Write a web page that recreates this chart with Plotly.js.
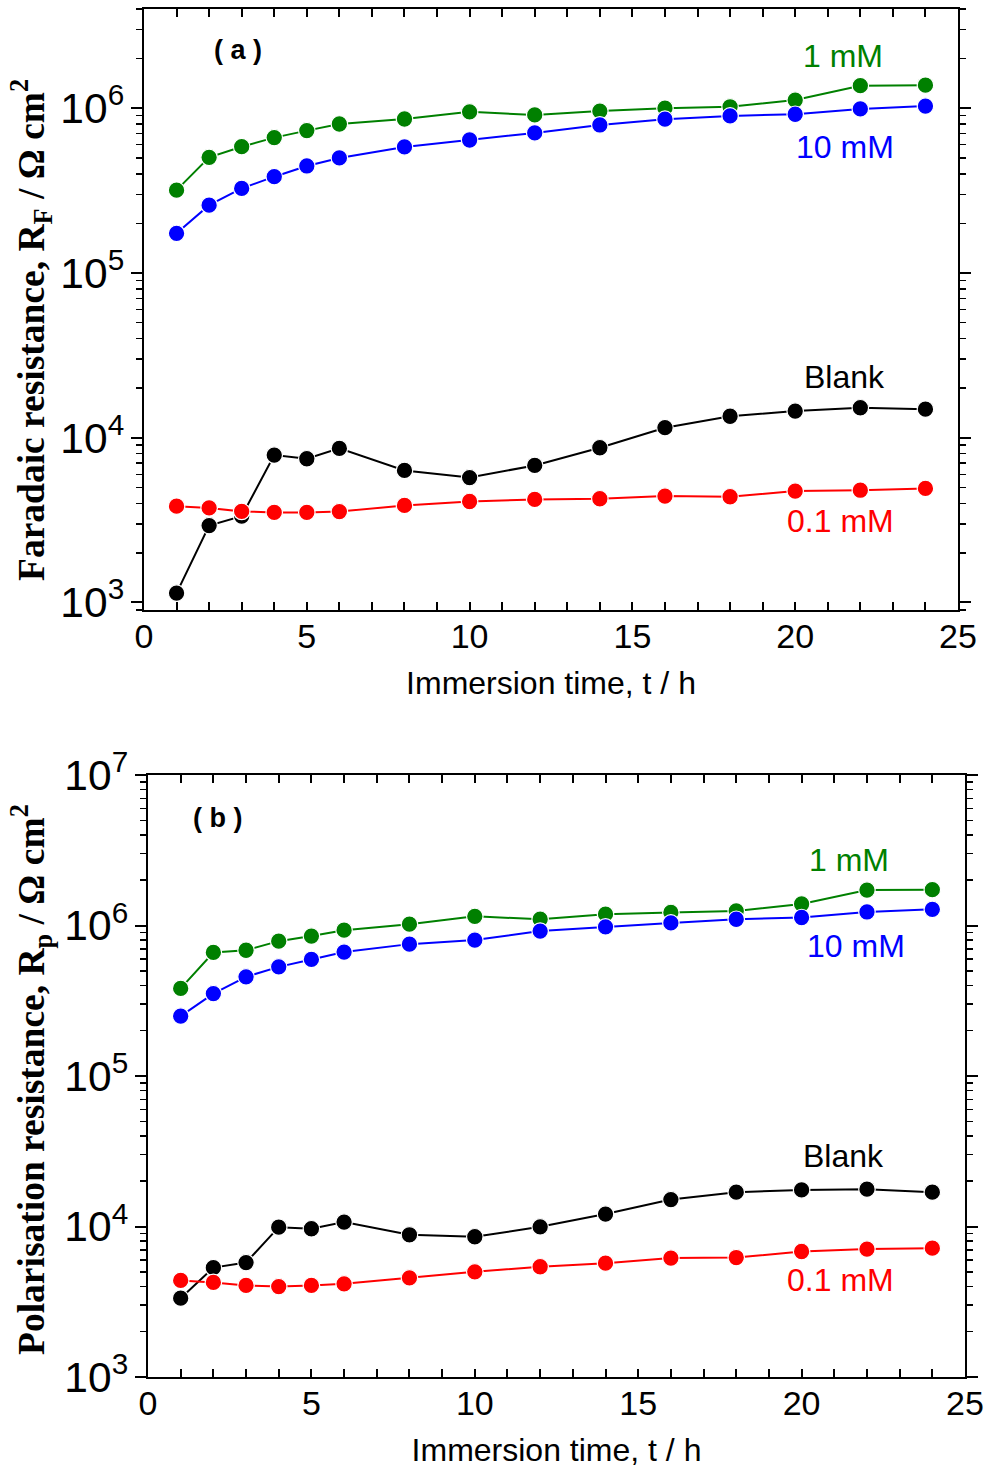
<!DOCTYPE html>
<html>
<head>
<meta charset="utf-8">
<script src="https://cdn.plot.ly/plotly-3.0.1.min.js"></script>
<style>html,body{margin:0;padding:0;background:#fff;}#chart{width:984px;height:1470px;}</style>
</head>
<body>
<div id="chart"></div>
<script>
// Immersion time (h)
const times = [1, 2, 3, 4, 5, 6, 8, 10, 12, 14, 16, 18, 20, 22, 24];

// (a) Faradaic resistance R_F (Ohm cm^2)
const rfBlank = [1140, 2930, 3340, 7840, 7450, 8610, 6330, 5730, 6790, 8690, 11500, 13500, 14500, 15200, 14900];
const rf01mM  = [3840, 3750, 3570, 3520, 3520, 3560, 3880, 4100, 4220, 4260, 4420, 4380, 4740, 4800, 4920];
const rf1mM   = [318000, 503000, 584000, 663000, 731000, 802000, 860000, 950000, 910000, 960000, 1000000, 1020000, 1120000, 1370000, 1380000];
const rf10mM  = [174000, 258000, 326000, 384000, 446000, 499000, 582000, 641000, 708000, 791000, 858000, 898000, 919000, 990000, 1030000];

// (b) Polarisation resistance R_p (Ohm cm^2)
const rpBlank = [3340, 5330, 5760, 9900, 9660, 10700, 8810, 8550, 9950, 12100, 15100, 16900, 17500, 17700, 16900];
const rp01mM  = [4380, 4250, 4060, 3990, 4060, 4160, 4560, 5000, 5400, 5710, 6170, 6220, 6820, 7080, 7180];
const rp1mM   = [382000, 662000, 685000, 787000, 851000, 931000, 1020000, 1150000, 1100000, 1190000, 1220000, 1250000, 1390000, 1720000, 1730000];
const rp10mM  = [250000, 353000, 456000, 531000, 595000, 666000, 752000, 800000, 918000, 980000, 1040000, 1100000, 1130000, 1230000, 1280000];

const seriesNames = ['Blank', '0.1 mM', '1 mM', '10 mM'];
const seriesColors = ['#000000', '#ff0000', '#008000', '#0000ff'];

const yTitleA = 'Faradaic resistance, R<sub>F</sub> / Ω cm<sup>2</sup>';
const yTitleB = 'Polarisation resistance, R<sub>p</sub> / Ω cm<sup>2</sup>';
const xTitle = 'Immersion time, t / h';

function mk(y, i, xa, ya) {
  return {
    x: times, y: y, type: 'scatter', mode: 'lines+markers', name: seriesNames[i],
    xaxis: xa, yaxis: ya, showlegend: false,
    line: {color: seriesColors[i], width: 2},
    marker: {color: seriesColors[i], size: 16.5, line: {color: '#ffffff', width: 1.2}}
  };
}

const data = [
  mk(rfBlank, 0, 'x', 'y'), mk(rf01mM, 1, 'x', 'y'), mk(rf1mM, 2, 'x', 'y'), mk(rf10mM, 3, 'x', 'y'),
  mk(rpBlank, 0, 'x2', 'y2'), mk(rp01mM, 1, 'x2', 'y2'), mk(rp1mM, 2, 'x2', 'y2'), mk(rp10mM, 3, 'x2', 'y2')
];

const SANS = 'Liberation Sans, Arial, sans-serif';
const tickFont = {family: SANS, size: 34, color: '#000'};
const xTitleFont = {family: SANS, size: 32, color: '#000'};
const yTitleFont = {family: 'Liberation Serif, Times New Roman, serif', size: 37.5, color: '#000', weight: 'bold'};

function xaxisDef(domain, anchor) {
  return {
    domain: domain, anchor: anchor, range: [0, 25], dtick: 5, tick0: 0,
    ticks: 'inside', ticklen: 8, tickwidth: 2, tickcolor: '#000',
    minor: {dtick: 1, ticks: 'inside', ticklen: 8, tickwidth: 2, tickcolor: '#000'},
    showline: true, linecolor: '#000', linewidth: 2, mirror: 'ticks',
    showgrid: false, zeroline: false, tickfont: tickFont, ticklabeloverflow: 'allow',
    ticklabelstandoff: -5,
    title: {text: xTitle, font: xTitleFont, standoff: 18}
  };
}
function yaxisDef(domain, anchor, range) {
  return {
    domain: domain, anchor: anchor, type: 'log', range: range, dtick: 1,
    exponentformat: 'power',
    ticks: 'outside', ticklen: 11, tickwidth: 2, tickcolor: '#000',
    minor: {dtick: 'D1', ticks: 'outside', ticklen: 6, tickwidth: 1.5, tickcolor: '#000'},
    showline: true, linecolor: '#000', linewidth: 2, mirror: 'ticks',
    showgrid: false, zeroline: false, tickfont: tickFont, ticklabelstandoff: 0,
    ticklabeloverflow: 'allow'
  };
}

function ann(text, px, py, color, size, bold) {
  return {
    text: text, x: px / 984, y: 1 - py / 1470, xref: 'paper', yref: 'paper',
    showarrow: false, xanchor: 'center', yanchor: 'middle',
    font: {family: SANS, size: size, color: color, weight: bold ? 'bold' : 'normal'}
  };
}
function yTitleAnn(text, px, py) {
  return {
    text: text, x: px / 984, y: 1 - py / 1470, xref: 'paper', yref: 'paper',
    showarrow: false, xanchor: 'center', yanchor: 'middle', textangle: -90,
    font: yTitleFont
  };
}

const layout = {
  width: 984, height: 1470,
  margin: {l: 0, r: 0, t: 0, b: 0},
  paper_bgcolor: '#fff', plot_bgcolor: '#fff',
  xaxis: xaxisDef([144 / 984, 958 / 984], 'y'),
  yaxis: yaxisDef([1 - 610 / 1470, 1 - 9 / 1470], 'x', [Math.log10(900), Math.log10(4e6)]),
  xaxis2: xaxisDef([148 / 984, 965 / 984], 'y2'),
  yaxis2: yaxisDef([1 - 1377 / 1470, 1 - 775 / 1470], 'x2', [3, 7]),
  annotations: [
    yTitleAnn(yTitleA, 31, 330),
    yTitleAnn(yTitleB, 31, 1080),
    ann('( a )', 238, 50, '#000', 27, true),
    ann('1 mM', 843, 56, '#008000', 32, false),
    ann('10 mM', 845, 147, '#0000ff', 32, false),
    ann('Blank', 844, 377, '#000', 32, false),
    ann('0.1 mM', 840, 521, '#ff0000', 32, false),
    ann('( b )', 217, 818, '#000', 27, true),
    ann('1 mM', 849, 860, '#008000', 32, false),
    ann('10 mM', 856, 946, '#0000ff', 32, false),
    ann('Blank', 843, 1156, '#000', 32, false),
    ann('0.1 mM', 840, 1280, '#ff0000', 32, false)
  ]
};

Plotly.newPlot('chart', data, layout, {displayModeBar: false, staticPlot: true});
</script>
</body>
</html>
